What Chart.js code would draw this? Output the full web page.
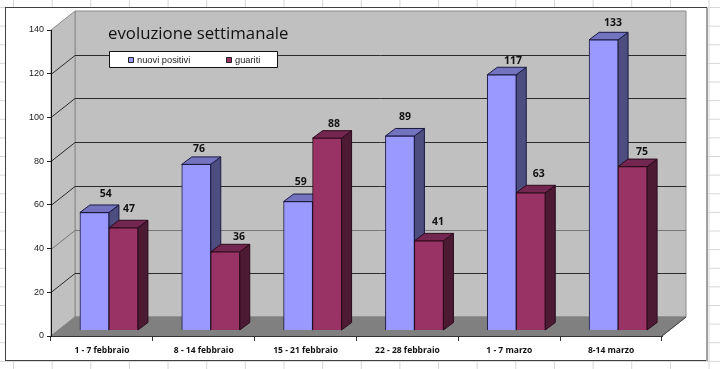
<!DOCTYPE html>
<html>
<head>
<meta charset="utf-8">
<title>evoluzione settimanale</title>
<script src="https://cdn.jsdelivr.net/npm/chart.js@4"></script>
<style>
  html, body { margin: 0; padding: 0; width: 720px; height: 369px; overflow: hidden; }
  /* excel cell lines showing behind the chart */
  body {
    background-color: #fff;
    background-image:
      linear-gradient(to right, #d6d6d6 1px, transparent 1px),
      linear-gradient(to bottom, #d6d6d6 1px, transparent 1px);
    background-size: 38.65px 18.63px;
    background-position: 13px 7px;
  }
  canvas { display: block; }
</style>
</head>
<body>
<canvas id="chart" width="720" height="369"></canvas>
<script>
const titleText = 'evoluzione settimanale';
const categories = ['1 - 7 febbraio', '8 - 14 febbraio', '15 - 21 febbraio', '22 - 28 febbraio', '1 - 7 marzo', '8-14 marzo'];
const nuoviPositivi = [54, 76, 59, 89, 117, 133];
const guariti = [47, 36, 88, 41, 63, 75];

// depth of the fake 3d box and of the bars
const boxDx = 24, boxDy = -19;
const barShiftX = 7, barShiftY = -5.5;
const barDx = 10, barDy = -7.5;

// colours for the faces of each series
const faces = [
    { side: '#4d4d80', top: '#7373bf' },
    { side: '#4d1a33', top: '#732650' }
];

// the value labels were moved by hand in the original, offset from the bar top centre
const labelNudgeX = [[11.3, 2.8, 2.6, 5.1, 11.3, 9.4], [5.6, 13.8, 6.9, 9.1, 8, 9.4]];
const labelNudgeY = [[-18.5, -15.4, -19.5, -19, -14, -17.1], [-18.8, -14.8, -14.1, -18.9, -18.8, -14.5]];

function poly(ctx, pts, fill, stroke) {
    ctx.beginPath();
    pts.forEach((p, i) => i ? ctx.lineTo(p[0], p[1]) : ctx.moveTo(p[0], p[1]));
    ctx.closePath();
    if (fill) { ctx.fillStyle = fill; ctx.fill(); }
    if (stroke) { ctx.strokeStyle = stroke; ctx.lineWidth = 1; ctx.stroke(); }
}

const box3d = {
    id: 'box3d',
    // frame, walls, floor and grid lines
    beforeDraw(chart) {
        const { ctx, scales: { x, y } } = chart;
        const l = x.left, r = x.right, t = y.top, b = y.bottom;

        ctx.save();
        ctx.fillStyle = '#fff';
        ctx.fillRect(6, 7, 701, 354);
        ctx.strokeStyle = '#404040';
        ctx.lineWidth = 1;
        ctx.strokeRect(5.5, 7.5, 701, 353);
        ctx.fillStyle = '#a0a0a0';
        ctx.fillRect(706, 8, 2, 353);

        poly(ctx, [[l + boxDx, t + boxDy], [r + boxDx, t + boxDy], [r + boxDx, b + boxDy], [l + boxDx, b + boxDy]], '#c0c0c0', '#8c8c8c');
        poly(ctx, [[l, t], [l + boxDx, t + boxDy], [l + boxDx, b + boxDy], [l, b]], '#c0c0c0', '#8c8c8c');
        poly(ctx, [[l, b], [r, b], [r + boxDx, b + boxDy], [l + boxDx, b + boxDy]], '#808080', '#808080');

        ctx.lineWidth = 1;
        y.ticks.forEach(tick => {
            if (tick.value === 0 || tick.value === y.max) return;
            const py = Math.round(y.getPixelForValue(tick.value)) + 0.5;
            // the 40 line came out washed out in the screenshot
            ctx.strokeStyle = tick.value === 40 ? '#777' : '#2a2a2a';
            ctx.beginPath();
            ctx.moveTo(l, py);
            ctx.lineTo(l + boxDx, py + boxDy);
            ctx.lineTo(r + boxDx, py + boxDy);
            ctx.stroke();
        });
        ctx.strokeStyle = '#404040';
        ctx.beginPath();
        ctx.moveTo(r, b);
        ctx.lineTo(r + boxDx, b + boxDy);
        ctx.stroke();
        ctx.restore();
    },
    // blue has to go down before red, so the side faces overlap properly
    beforeDatasetsDraw(chart) {
        const { ctx } = chart;
        ctx.save();
        ctx.translate(barShiftX, barShiftY);
        chart.data.datasets.forEach((ds, i) => {
            const meta = chart.getDatasetMeta(i);
            meta.data.forEach(bar => {
                const x0 = bar.x - bar.width / 2, x1 = bar.x + bar.width / 2;
                const top = bar.y, base = bar.base;
                poly(ctx, [[x1, top], [x1 + barDx, top + barDy], [x1 + barDx, base + barDy], [x1, base]], faces[i].side, ds.borderColor);
                poly(ctx, [[x0, top], [x0 + barDx, top + barDy], [x1 + barDx, top + barDy], [x1, top]], faces[i].top, ds.borderColor);
            });
            meta.controller.draw();
        });
        ctx.restore();
        return false;
    },
    // value labels, title and legend
    afterDraw(chart) {
        const { ctx } = chart;
        ctx.save();
        ctx.textAlign = 'center';
        ctx.textBaseline = 'middle';
        ctx.fillStyle = '#111';
        ctx.font = 'bold 10.5px "Open Sans"';
        chart.data.datasets.forEach((ds, i) => {
            chart.getDatasetMeta(i).data.forEach((bar, j) => {
                ctx.fillText(ds.data[j], bar.x + barShiftX + labelNudgeX[i][j], bar.y + barShiftY + labelNudgeY[i][j]);
            });
        });

        ctx.textAlign = 'left';
        ctx.font = '16.8px "Open Sans"';
        ctx.fillText(titleText, 108, 34);

        poly(ctx, [[109.5, 51.5], [277.5, 51.5], [277.5, 67.5], [109.5, 67.5]], '#fff', '#111');
        ctx.font = '9.3px "Liberation Sans"';
        const legendX = [128.5, 226.5];
        chart.data.datasets.forEach((ds, i) => {
            poly(ctx, [[legendX[i], 57.5], [legendX[i] + 5, 57.5], [legendX[i] + 5, 62.5], [legendX[i], 62.5]], ds.backgroundColor, '#222');
            ctx.fillStyle = '#222';
            ctx.fillText(ds.label, legendX[i] + 8.5, 60);
        });
        ctx.restore();
    }
};

new Chart(document.getElementById('chart'), {
    type: 'bar',
    data: {
        labels: categories,
        datasets: [
            { label: 'nuovi positivi', data: nuoviPositivi, backgroundColor: '#9999ff', borderColor: '#1a1a40', borderWidth: 1 },
            { label: 'guariti', data: guariti, backgroundColor: '#993366', borderColor: '#2a0a1a', borderWidth: 1 }
        ]
    },
    options: {
        responsive: false,
        animation: false,
        layout: { padding: { left: 0, top: 30, right: 58, bottom: 0 } },
        plugins: { legend: { display: false }, tooltip: { enabled: false } },
        datasets: { bar: { barThickness: 29 } },
        scales: {
            x: {
                afterFit(scale) { scale.height = 33; },
                grid: { drawOnChartArea: false, tickLength: 5, color: '#333' },
                border: { color: '#333' },
                ticks: { color: '#111', padding: 4, maxRotation: 0, autoSkip: false, font: { family: 'Open Sans', size: 8.5, weight: 'bold' } }
            },
            y: {
                min: 0,
                max: 140,
                afterFit(scale) { scale.width = 51; },
                grid: { drawOnChartArea: false, tickLength: 4, color: '#222' },
                border: { color: '#111' },
                ticks: { stepSize: 20, color: '#222', padding: 3, font: { family: 'Liberation Sans', size: 9 } }
            }
        }
    },
    plugins: [box3d]
});
</script>
</body>
</html>
